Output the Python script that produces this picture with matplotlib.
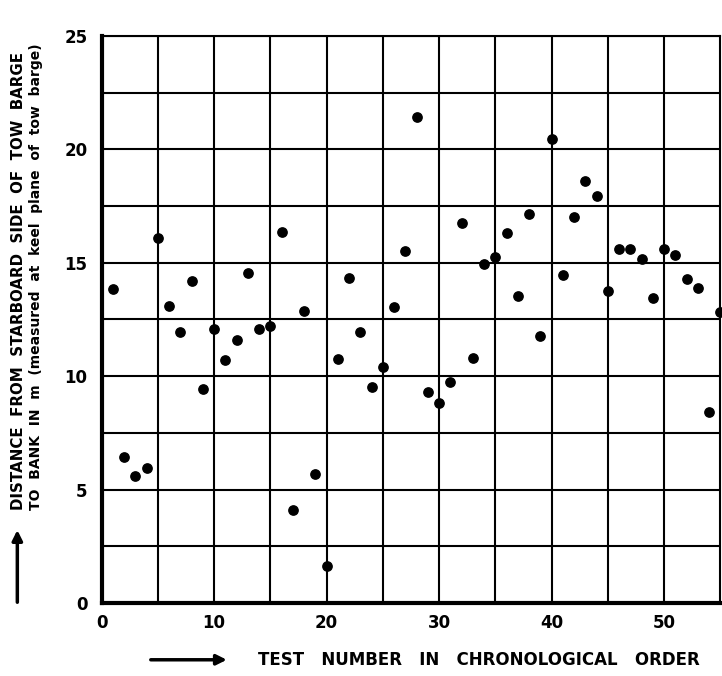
import numpy as np
import matplotlib
matplotlib.use("Agg")
import matplotlib.pyplot as plt

# test numbers and measured distances (m)
test_no = list(range(1, 56))
distance = [13.86, 6.45, 5.60, 5.95, 16.07, 13.10, 11.95, 14.20, 9.43, 12.07,
            10.70, 11.60, 14.55, 12.07, 12.19, 16.36, 4.10, 12.86, 5.68, 1.64,
            10.75, 14.33, 11.94, 9.53, 10.41, 13.03, 15.52, 21.40, 9.28, 8.82,
            9.72, 16.73, 10.78, 14.96, 15.26, 16.29, 13.52, 17.14, 11.79, 20.45,
            14.44, 17.00, 18.62, 17.93, 13.74, 15.60, 15.60, 15.15, 13.45, 15.60,
            15.35, 14.30, 13.89, 8.43, 12.83]

x_ticks = [0, 10, 20, 30, 40, 50]
y_ticks = [0, 5, 10, 15, 20, 25]

fig = plt.figure(figsize=(7.22, 6.76), dpi=100)
ax = fig.add_axes([0.1406, 0.108, 0.857, 0.839])

ax.scatter(test_no, distance, s=45, color="black", zorder=3, clip_on=False)

ax.set_xlim(0, 55)
ax.set_ylim(0, 25)
ax.set_xticks(x_ticks)
ax.set_xticks(np.arange(5, 55, 10), minor=True)
ax.set_yticks(y_ticks)
ax.set_yticks(np.arange(2.5, 25, 5), minor=True)
ax.grid(True, which="both", color="black", linewidth=1.5)
ax.set_axisbelow(True)
ax.tick_params(which="both", length=0, labelsize=12)
ax.tick_params(axis="y", pad=10)
ax.tick_params(axis="x", pad=8)
for lab in ax.get_xticklabels() + ax.get_yticklabels():
    lab.set_fontweight("bold")

for side in ["left", "bottom"]:
    ax.spines[side].set_linewidth(3)
for side in ["top", "right"]:
    ax.spines[side].set_linewidth(1.5)

# axis labels with arrows
fig.text(0.025, 0.245, "DISTANCE  FROM  STARBOARD  SIDE  OF  TOW  BARGE",
         rotation=90, ha="center", va="bottom", fontsize=10.8, fontweight="bold")
fig.text(0.050, 0.245, "TO  BANK  IN  m  (measured  at  keel  plane  of  tow  barge)",
         rotation=90, ha="center", va="bottom", fontsize=10, fontweight="bold")
fig.add_artist(matplotlib.patches.FancyArrowPatch(
    (0.024, 0.105), (0.024, 0.22), transform=fig.transFigure,
    arrowstyle="-|>,head_length=6,head_width=3", color="black", lw=2.5))

fig.text(0.357, 0.024, "TEST   NUMBER   IN   CHRONOLOGICAL   ORDER",
         ha="left", va="center", fontsize=12, fontweight="bold")
fig.add_artist(matplotlib.patches.FancyArrowPatch(
    (0.205, 0.024), (0.318, 0.024), transform=fig.transFigure,
    arrowstyle="-|>,head_length=6,head_width=3", color="black", lw=2.5))

fig.savefig("out.png", dpi=100)
